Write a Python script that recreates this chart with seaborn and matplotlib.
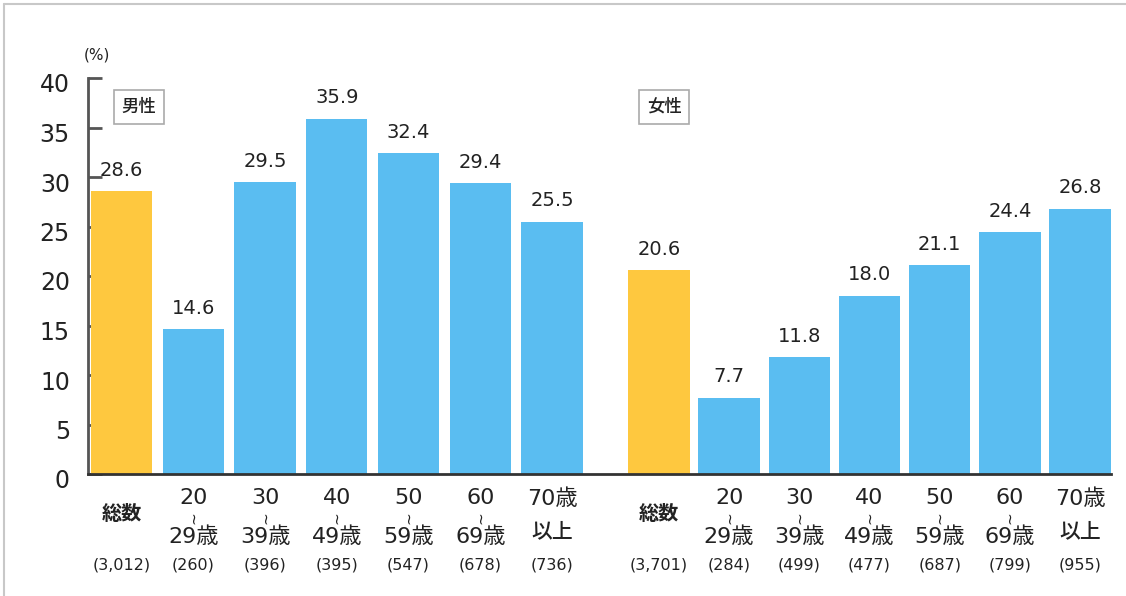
import matplotlib
matplotlib.use("Agg")
import matplotlib.pyplot as plt
import matplotlib.transforms as mtransforms
from matplotlib.lines import Line2D
import numpy as np
import pandas as pd
import seaborn as sns

# ---- data -------------------------------------------------------------
categories = ["総数", "20〜29歳", "30〜39歳", "40〜49歳", "50〜59歳", "60〜69歳", "70歳以上"]
men_values = [28.6, 14.6, 29.5, 35.9, 32.4, 29.4, 25.5]
women_values = [20.6, 7.7, 11.8, 18.0, 21.1, 24.4, 26.8]
men_counts = ["(3,012)", "(260)", "(396)", "(395)", "(547)", "(678)", "(736)"]
women_counts = ["(3,701)", "(284)", "(499)", "(477)", "(687)", "(799)", "(955)"]
groups = ["男性", "女性"]
y_ticks = [0, 5, 10, 15, 20, 25, 30, 35, 40]

# ---- style ------------------------------------------------------------
sns.set_style("white")
plt.rcParams["font.family"] = ["DejaVu Sans", "Noto Sans CJK JP"]

YELLOW = "#FEC83F"
BLUE = "#5ABDF1"
TEXT = "#222222"

# bar positions: two groups of seven with a gap between them
men_pos = np.arange(7, dtype=float)
women_pos = 7.49 + np.arange(7) * 0.978

df = pd.DataFrame({
    "pos": np.concatenate([men_pos, women_pos]),
    "value": men_values + women_values,
    "kind": ["total" if c == "総数" else "age" for c in categories] * 2,
})

fig = plt.figure(figsize=(11.26, 5.96), dpi=100)
ax = fig.add_axes([88 / 1126, 1 - 474 / 596, (1111 - 88) / 1126, (474 - 78) / 596])

sns.barplot(data=df, x="pos", y="value", hue="kind", native_scale=True,
            palette={"total": YELLOW, "age": BLUE}, dodge=False, saturation=1,
            width=0.875, linewidth=0, legend=False, ax=ax)

ax.set_xlim(-0.467, 13.79)
ax.set_ylim(0, 40)
ax.set_xlabel("")
ax.set_ylabel("")
ax.set_xticks([])

# axes frame: left spine with inward ticks, dark baseline
for side in ["top", "right"]:
    ax.spines[side].set_visible(False)
ax.spines["left"].set_color("#555555")
ax.spines["left"].set_linewidth(2)
ax.spines["bottom"].set_color("#333333")
ax.spines["bottom"].set_linewidth(2)
ax.set_yticks(y_ticks)
ax.set_yticklabels([str(t) for t in y_ticks])
ax.tick_params(axis="y", direction="in", length=10, width=2, color="#555555",
               labelsize=17, pad=13, labelcolor=TEXT, left=True)
shift = mtransforms.ScaledTranslation(0, -5 / 100, fig.dpi_scale_trans)
for lbl in ax.get_yticklabels():
    lbl.set_transform(lbl.get_transform() + shift)

fig.text(97 / 1126, 1 - 55 / 596, "(%)", fontsize=11, color=TEXT, ha="center", va="center")

# value labels above the bars
for pos, val in zip(df["pos"], df["value"]):
    ax.annotate(f"{val:.1f}", xy=(pos, val), xytext=(0, 15), textcoords="offset points",
                ha="center", va="center", fontsize=14, color=TEXT)

# category labels under the axis
def draw_category(x, label, count):
    def put(text, dy_px, size, weight="normal", rotation=0):
        ax.annotate(text, xy=(x, 0), xycoords=("data", "axes fraction"),
                    xytext=(0, -dy_px * 0.72), textcoords="offset points",
                    ha="center", va="center", fontsize=size, color=TEXT,
                    fontweight=weight, rotation=rotation)
    if "〜" in label:
        top, bottom = label.split("〜")
        put(top, 24, 16)
        put("~", 44, 11, rotation=90)
        put(bottom, 63, 16)
    elif label.endswith("以上"):
        put(label[:-2], 25, 16)
        put("以上", 57, 15, "medium")
    else:
        put(label, 41, 14.5, "semibold")
    put(count, 91, 11.5)

for x, lab, cnt in zip(men_pos, categories, men_counts):
    draw_category(x, lab, cnt)
for x, lab, cnt in zip(women_pos, categories, women_counts):
    draw_category(x, lab, cnt)

# group tags
for x_px, name in zip([139, 664], groups):
    fig.text(x_px / 1126, 1 - 107 / 596, name, fontsize=12.5, color=TEXT,
             ha="center", va="center", fontweight="medium",
             bbox=dict(boxstyle="square,pad=0.45", facecolor="white", edgecolor="#aaaaaa", linewidth=1.2))

# light frame along the top and left edges
fig.add_artist(Line2D([4 / 1126, 1], [1 - 4 / 596] * 2, transform=fig.transFigure,
                      color="#c8c8c8", linewidth=1.5))
fig.add_artist(Line2D([4 / 1126] * 2, [0, 1 - 4 / 596], transform=fig.transFigure,
                      color="#c8c8c8", linewidth=1.5))

fig.savefig("out.png", dpi=100)
